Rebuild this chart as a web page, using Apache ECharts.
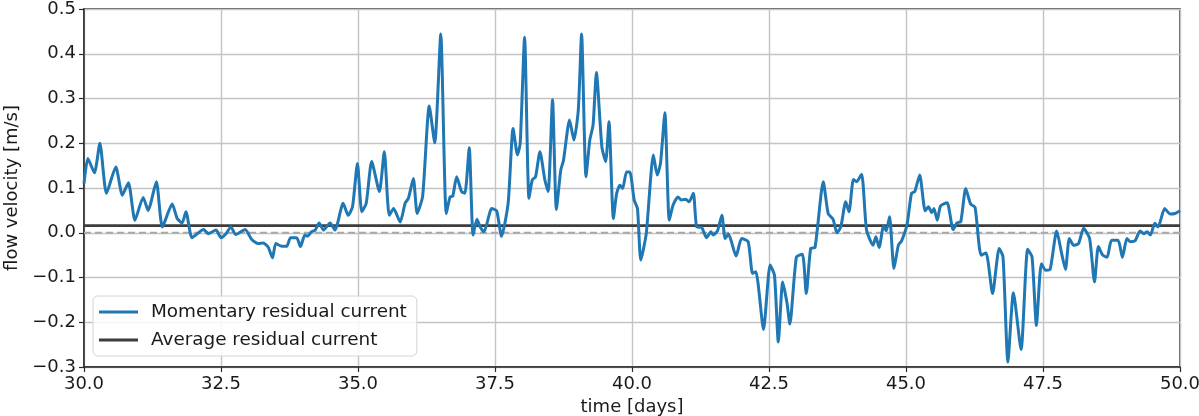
<!DOCTYPE html>
<html>
<head>
<meta charset="utf-8">
<title>Residual current</title>
<script src="https://cdn.jsdelivr.net/npm/echarts@6/dist/echarts.min.js"></script>
<style>
  html, body { margin: 0; padding: 0; background: #ffffff; }
  #chart { width: 1199px; height: 416px; }
</style>
</head>
<body>
<div id="chart"></div>
<script>
// Time in days
const days = [
  30.00, 30.07, 30.19, 30.29, 30.41, 30.58, 30.70, 30.81, 30.93, 31.08,
  31.17, 31.32, 31.43, 31.61, 31.70, 31.79, 31.86, 31.97, 32.09, 32.18,
  32.27, 32.41, 32.50, 32.59, 32.68, 32.77, 32.94, 33.06, 33.18, 33.27,
  33.36, 33.44, 33.50, 33.61, 33.70, 33.77, 33.88, 33.95, 34.03, 34.08,
  34.15, 34.22, 34.29, 34.37, 34.49, 34.58, 34.73, 34.82, 34.90, 34.99,
  35.07, 35.15, 35.25, 35.39, 35.48, 35.57, 35.65, 35.77, 35.86, 35.92,
  36.01, 36.08, 36.18, 36.30, 36.40, 36.51, 36.61, 36.68, 36.73, 36.80,
  36.89, 36.95, 37.03, 37.10, 37.17, 37.23, 37.30, 37.44, 37.53, 37.62,
  37.74, 37.83, 37.91, 37.96, 38.04, 38.12, 38.18, 38.24, 38.32, 38.41,
  38.47, 38.55, 38.62, 38.70, 38.75, 38.86, 38.94, 39.02, 39.08, 39.16,
  39.23, 39.29, 39.35, 39.45, 39.52, 39.58, 39.66, 39.72, 39.78, 39.83,
  39.90, 39.96, 40.04, 40.10, 40.16, 40.26, 40.39, 40.46, 40.52, 40.60,
  40.68, 40.75, 40.84, 40.90, 40.98, 41.04, 41.12, 41.18, 41.27, 41.36,
  41.44, 41.48, 41.56, 41.64, 41.70, 41.76, 41.90, 42.00, 42.12, 42.20,
  42.26, 42.40, 42.52, 42.60, 42.67, 42.75, 42.83, 42.88, 43.00, 43.11,
  43.18, 43.26, 43.34, 43.49, 43.58, 43.67, 43.74, 43.81, 43.90, 43.96,
  44.04, 44.10, 44.19, 44.28, 44.40, 44.45, 44.51, 44.59, 44.64, 44.70,
  44.78, 44.86, 44.92, 45.02, 45.10, 45.16, 45.25, 45.35, 45.41, 45.47,
  45.51, 45.57, 45.63, 45.75, 45.86, 45.93, 46.00, 46.09, 46.18, 46.26,
  46.37, 46.46, 46.58, 46.70, 46.77, 46.86, 46.96, 47.10, 47.22, 47.30,
  47.38, 47.47, 47.55, 47.63, 47.75, 47.84, 47.91, 47.98, 48.06, 48.15,
  48.24, 48.35, 48.44, 48.51, 48.59, 48.67, 48.75, 48.87, 48.95, 49.03,
  49.09, 49.18, 49.27, 49.34, 49.40, 49.46, 49.54, 49.60, 49.72, 49.82,
  49.91, 50.00
];

// Momentary residual current [m/s]
const momentary = [
  0.110, 0.166, 0.134, 0.200, 0.088, 0.147, 0.084, 0.112, 0.028, 0.079,
  0.050, 0.114, 0.013, 0.064, 0.032, 0.022, 0.047, -0.011, 0.000, 0.007,
  -0.002, 0.006, -0.011, -0.002, 0.013, -0.004, 0.007, -0.015, -0.024, -0.023,
  -0.032, -0.056, -0.024, -0.030, -0.030, -0.011, -0.011, -0.031, -0.005, -0.008,
  0.002, 0.006, 0.022, 0.006, 0.022, 0.006, 0.066, 0.039, 0.058, 0.155,
  0.047, 0.066, 0.159, 0.092, 0.181, 0.039, 0.054, 0.024, 0.066, 0.077,
  0.121, 0.043, 0.082, 0.283, 0.201, 0.444, 0.043, 0.080, 0.082, 0.125,
  0.092, 0.088, 0.190, -0.005, 0.030, 0.013, 0.002, 0.054, 0.049, -0.008,
  0.066, 0.233, 0.174, 0.200, 0.437, 0.077, 0.118, 0.125, 0.181, 0.118,
  0.092, 0.297, 0.052, 0.140, 0.162, 0.252, 0.207, 0.274, 0.444, 0.125,
  0.207, 0.241, 0.358, 0.192, 0.159, 0.248, 0.032, 0.088, 0.106, 0.099,
  0.136, 0.136, 0.073, 0.054, -0.061, -0.002, 0.174, 0.129, 0.155, 0.268,
  0.028, 0.062, 0.080, 0.073, 0.075, 0.069, 0.088, 0.013, 0.012, -0.011,
  0.002, -0.005, 0.004, 0.039, -0.013, -0.003, -0.052, -0.013, -0.020, -0.091,
  -0.087, -0.216, -0.072, -0.095, -0.244, -0.110, -0.158, -0.204, -0.054, -0.048,
  -0.136, -0.035, -0.033, 0.114, 0.043, 0.030, 0.000, 0.013, 0.069, 0.047,
  0.119, 0.114, 0.131, 0.006, -0.028, -0.009, -0.033, 0.015, 0.004, 0.036,
  -0.080, -0.028, -0.018, 0.019, 0.088, 0.092, 0.129, 0.049, 0.058, 0.045,
  0.054, 0.028, 0.060, 0.067, 0.007, 0.022, 0.025, 0.099, 0.064, 0.057,
  -0.050, -0.045, -0.136, -0.035, -0.054, -0.289, -0.134, -0.261, -0.037, -0.054,
  -0.207, -0.069, -0.084, -0.082, 0.004, -0.046, -0.082, -0.013, -0.028, -0.024,
  0.010, -0.013, -0.110, -0.031, -0.050, -0.055, -0.017, -0.017, -0.055, -0.013,
  -0.020, -0.018, 0.004, -0.002, 0.002, -0.005, 0.021, 0.013, 0.054, 0.042,
  0.043, 0.049
];

// Mean over the whole record [m/s]
const averageCurrent = 0.016;

const seriesNames = ['Momentary residual current', 'Average residual current'];
const xRange = [30, 50];
const yRange = [-0.3, 0.5];

const FONT = 'DejaVu Sans';
const TEXT = '#1a1a1a';

const momentaryData = days.map((d, i) => [d, momentary[i]]);
const averageData = xRange.map(d => [d, averageCurrent]);
const zeroData = xRange.map(d => [d, 0]);

function fmtMinus(v) {
  if (Math.abs(v) < 1e-9) v = 0;
  return v.toFixed(1).replace('-', '\u2212');
}

const chart = echarts.init(document.getElementById('chart'), null, { renderer: 'canvas' });

chart.setOption({
  animation: false,
  backgroundColor: '#ffffff',
  textStyle: { fontFamily: FONT },
  grid: {
    left: 84, right: 19, top: 9, bottom: 49,
    outerBoundsMode: 'none',
    containLabel: false,
    show: true,
    borderColor: '#2b2b2b',
    borderWidth: 1.5,
    backgroundColor: 'transparent'
  },
  legend: {
    orient: 'vertical',
    left: 93, top: 296,
    data: seriesNames,
    icon: 'rect',
    itemWidth: 39,
    itemHeight: 3,
    itemGap: 10,
    padding: [7, 10, 7, 6],
    backgroundColor: 'rgba(255,255,255,0.85)',
    borderColor: '#d4d4d4',
    borderWidth: 1,
    borderRadius: 5,
    textStyle: { fontFamily: FONT, fontSize: 18.4, color: TEXT, padding: [0, 0, 0, 8] }
  },
  xAxis: {
    type: 'value',
    min: xRange[0], max: xRange[1], interval: 2.5,
    name: 'time [days]',
    nameLocation: 'middle',
    nameGap: 30,
    nameTextStyle: { fontFamily: FONT, fontSize: 18, color: TEXT },
    axisLine: { show: true, onZero: false, lineStyle: { color: '#2b2b2b', width: 1.5 } },
    axisTick: { show: true, length: 5, lineStyle: { color: '#2b2b2b', width: 1.2 } },
    axisLabel: { fontFamily: FONT, fontSize: 18, color: TEXT, margin: 8, formatter: v => v.toFixed(1) },
    splitLine: { show: true, lineStyle: { color: '#c4c4c4', width: 1.4 } }
  },
  yAxis: {
    type: 'value',
    min: yRange[0], max: yRange[1], interval: 0.1,
    name: 'flow velocity [m/s]',
    nameLocation: 'middle',
    nameGap: 62,
    nameRotate: 90,
    nameTextStyle: { fontFamily: FONT, fontSize: 18, color: TEXT },
    axisLine: { show: true, onZero: false, lineStyle: { color: '#2b2b2b', width: 1.5 } },
    axisTick: { show: true, length: 5, lineStyle: { color: '#2b2b2b', width: 1.2 } },
    axisLabel: { fontFamily: FONT, fontSize: 18, color: TEXT, margin: 8, formatter: fmtMinus },
    splitLine: { show: true, lineStyle: { color: '#c4c4c4', width: 1.4 } }
  },
  series: [
    {
      name: 'zero',
      type: 'line',
      data: zeroData,
      showSymbol: false,
      silent: true,
      lineStyle: { color: '#a8a8a8', width: 1.8, type: [7, 4] },
      z: 1
    },
    {
      name: seriesNames[0],
      type: 'line',
      data: momentaryData,
      showSymbol: false,
      smooth: 0.2,
      color: '#1f77b4',
      lineStyle: { color: '#1f77b4', width: 3 },
      z: 3
    },
    {
      name: seriesNames[1],
      type: 'line',
      data: averageData,
      showSymbol: false,
      color: '#3d3d3d',
      lineStyle: { color: '#3d3d3d', width: 2.6 },
      z: 2
    }
  ]
});
</script>
</body>
</html>
